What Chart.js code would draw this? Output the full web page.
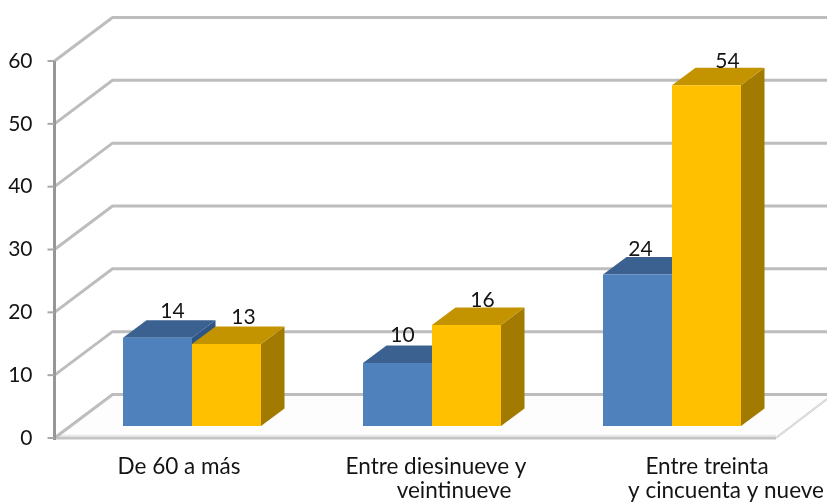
<!DOCTYPE html>
<html>
<head>
<meta charset="utf-8">
<title>Grupos de edad</title>
<script src="https://cdn.jsdelivr.net/npm/chart.js@4"></script>
<style>
  html, body { margin: 0; padding: 0; background: #fff; }
  #wrap { position: relative; width: 827px; height: 502px; }
</style>
</head>
<body>
<div id="wrap"><canvas id="chart" width="827" height="502"></canvas></div>
<script>
const categories = [
  ["De 60 a más"],
  ["Entre diesinueve y", "veintinueve"],
  ["Entre treinta", "y cincuenta y nueve"],
];
const blueValues = [14, 10, 24];
const yellowValues = [13, 16, 54];
const yTicks = [0, 10, 20, 30, 40, 50, 60];

const FAMILY = 'Lato, "Open Sans", sans-serif';
const TEXT = "#141414";
const GRID = "#bdbdbd";
// offsets of the hand placed text in the original picture
const labelShift = [[-13], [4, 22], [35, 54]];
const valueShift = [
  [[15, -26], [5, -28], [3, -25]],
  [[17, -27], [16, -25], [21, -24]],
];
const depth = { x: 23.5, y: -17.5 };     // bars
const wall = { x: 58, y: -43.5, axisGap: 17.5 };

const faces = [
  { top: "#3a6190", side: "#2f5585" },
  { top: "#c49300", side: "#a27a00" },
];

const poly = (ctx, pts, fill) => {
  ctx.beginPath();
  pts.forEach((p, i) => (i ? ctx.lineTo(p[0], p[1]) : ctx.moveTo(p[0], p[1])));
  ctx.closePath();
  ctx.fillStyle = fill;
  ctx.fill();
};

const line = (ctx, pts, color, width) => {
  ctx.beginPath();
  pts.forEach((p, i) => (i ? ctx.lineTo(p[0], p[1]) : ctx.moveTo(p[0], p[1])));
  ctx.strokeStyle = color;
  ctx.lineWidth = width;
  ctx.stroke();
};

// ---- walls, floor and the depth faces of the bars ----
const box3d = {
  id: "box3d",
  beforeDatasetsDraw(chart) {
    const { ctx, chartArea, scales, width } = chart;
    const ax = chartArea.left - wall.axisGap;
    const fr = chartArea.right - 16;
    const y0 = scales.y.getPixelForValue(0);
    ctx.save();
    ctx.lineJoin = "miter";

    // floor
    poly(ctx, [[ax, y0], [ax + wall.x, y0 + wall.y], [width, y0 + wall.y], [width, y0 - 39], [fr, y0]], "#fdfdfd");
    line(ctx, [[fr, y0], [width, y0 - 39]], "#c8c8c8", 2);
    line(ctx, [[fr, y0], [width, y0 - 39]], "#ffffff", 0.6);
    line(ctx, [[ax, y0], [fr, y0]], "#c4c4c4", 3);
    line(ctx, [[ax, y0 - 2.5], [fr, y0 - 2.5]], "#e8e8e8", 1.5);

    // grid lines: side wall then back wall
    yTicks.forEach((v) => {
      const y = scales.y.getPixelForValue(v);
      line(ctx, [[ax, y], [ax + wall.x, y + wall.y], [width, y + wall.y]], GRID, 3);
    });

    // axis line and tick marks
    line(ctx, [[ax, scales.y.getPixelForValue(60)], [ax, y0 + 2]], "#969696", 3);
    yTicks.forEach((v) => {
      const y = scales.y.getPixelForValue(v);
      line(ctx, [[ax - 7, y], [ax, y]], "#a8a8a8", 2);
    });

    // bar sides and tops, blue first so yellow sits over it
    chart.data.datasets.forEach((ds, d) => {
      chart.getDatasetMeta(d).data.forEach((bar) => {
        const l = bar.x - bar.width / 2, r = bar.x + bar.width / 2;
        const t = bar.y, b = bar.base;
        poly(ctx, [[r, t], [r + depth.x, t + depth.y], [r + depth.x, b + depth.y], [r, b]], faces[d].side);
        poly(ctx, [[l, t], [l + depth.x, t + depth.y], [r + depth.x, t + depth.y], [r, t]], faces[d].top);
      });
    });
    ctx.restore();
  },
  afterDatasetsDraw(chart) {
    const { ctx, scales } = chart;
    ctx.save();
    ctx.fillStyle = TEXT;
    ctx.textAlign = "center";
    ctx.textBaseline = "middle";

    // value labels
    ctx.font = "21px " + FAMILY;
    chart.data.datasets.forEach((ds, d) => {
      chart.getDatasetMeta(d).data.forEach((bar, i) => {
        const s = valueShift[d][i];
        ctx.fillText(String(ds.data[i]), bar.x + s[0], bar.y + s[1]);
      });
    });

    // category labels, the second lines are not centred in the original
    ctx.font = "22.5px " + FAMILY;
    categories.forEach((lines, i) => {
      const x = scales.x.getPixelForTick(i);
      lines.forEach((txt, n) => {
        ctx.fillText(txt, x + labelShift[i][n], 467 + n * 24);
      });
    });
    ctx.restore();
  },
};

new Chart(document.getElementById("chart"), {
  type: "bar",
  data: {
    labels: categories,
    datasets: [
      { label: "Serie 1", data: blueValues, backgroundColor: "#4f81bd", yAxisID: "yb" },
      { label: "Serie 2", data: yellowValues, backgroundColor: "#ffc000", yAxisID: "yb" },
    ],
  },
  options: {
    responsive: false,
    animation: false,
    devicePixelRatio: 1,
    layout: { padding: { top: 61, right: 35, left: 0, bottom: 0 } },
    datasets: { bar: { categoryPercentage: 0.575, barPercentage: 1 } },
    plugins: { legend: { display: false }, tooltip: { enabled: false }, title: { display: false } },
    scales: {
      x: {
        grid: { display: false, drawTicks: false },
        border: { display: false },
        ticks: { display: false },
        afterFit: (s) => { s.height = 64; },
      },
      y: {
        min: 0,
        max: 60,
        afterFit: (s) => { s.width = 72; },
        afterBuildTicks: (s) => { s.ticks = yTicks.map((value) => ({ value })); },
        grid: { display: false, drawTicks: false },
        border: { display: false },
        ticks: { padding: 39.5, color: TEXT, font: { family: FAMILY, size: 21 } },
      },
      // bars stand a little further back than the front of the floor
      yb: { display: false, min: -1.9, max: 57.85 },
    },
  },
  plugins: [box3d],
});
</script>
</body>
</html>
